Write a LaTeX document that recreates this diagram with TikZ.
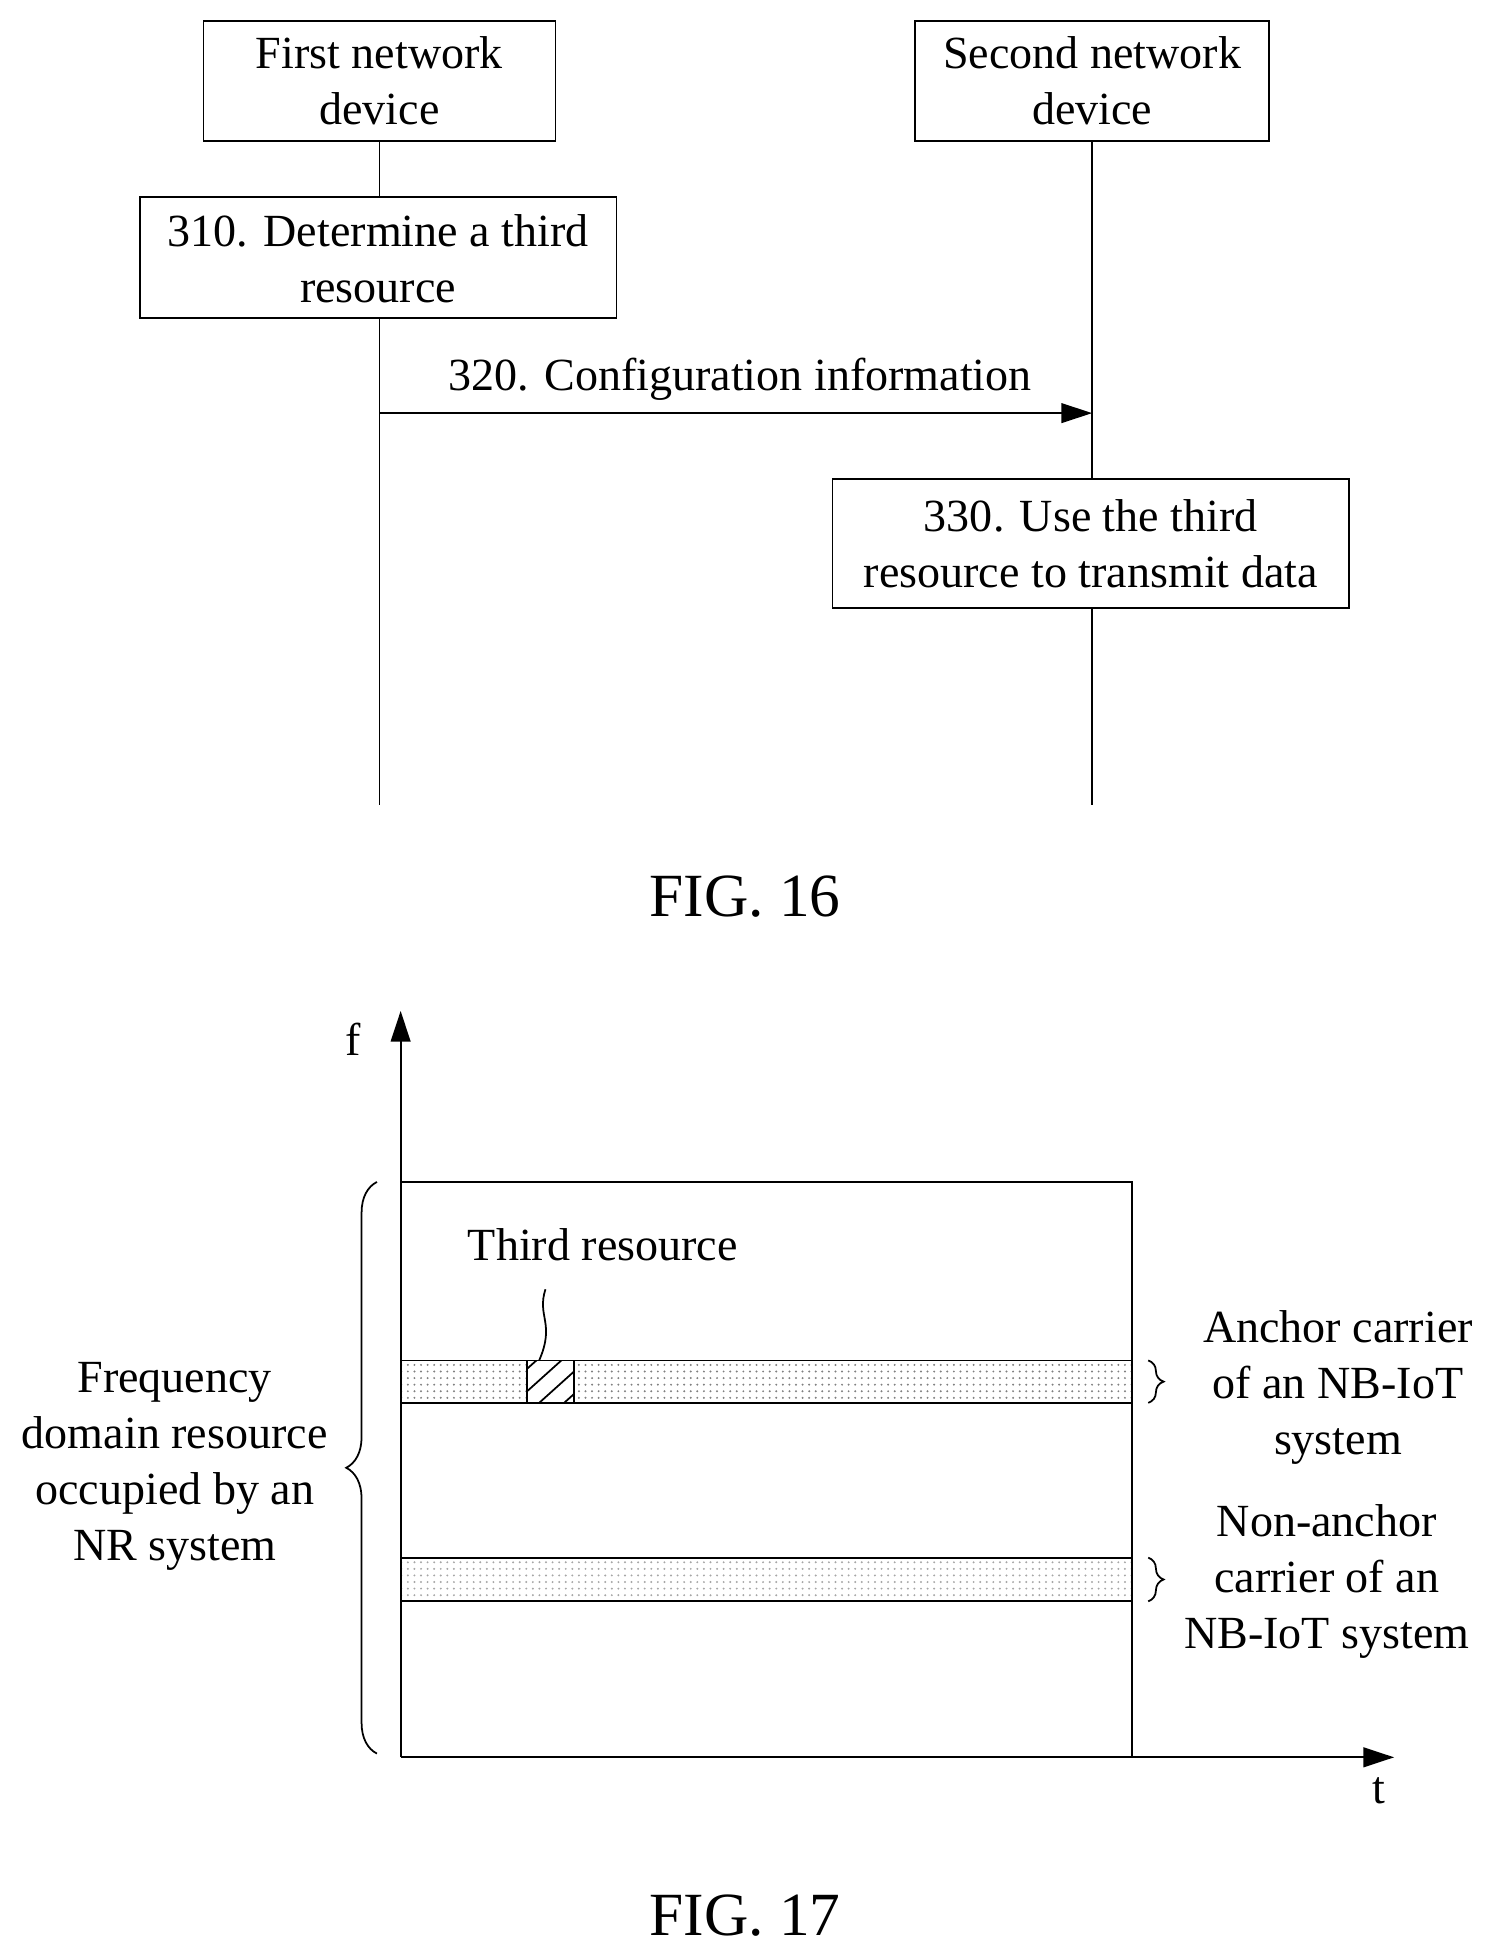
\documentclass[tikz,border=0pt]{standalone}
\usepackage{fontspec}
\setmainfont{Liberation Serif}
\usetikzlibrary{arrows.meta,patterns,decorations.pathreplacing}
\begin{document}
\begin{tikzpicture}[x=0.02cm,y=-0.02cm,
  txt/.style={font=\fontsize{21}{25.5}\selectfont,align=center,inner sep=0},
  box/.style={draw,thick},
  fig/.style={font=\fontsize{28}{32}\selectfont,inner sep=0},
  ln/.style={thick},
  arr/.style={thick,-{Triangle[length=14pt,width=9pt]}}]
\useasboundingbox (0,0) rectangle (1200,1568);
% FIG 16
\draw[box] (163,17) rectangle (445,113);
\node[txt] (a) at (304,65) {First network\\device};
\draw[box] (733,17) rectangle (1017,113);
\node[txt] (b) at (875,65) {Second network\\device};
\coordinate (a1) at (304,113); \coordinate (a2) at (304,645);
\coordinate (b1) at (875,113); \coordinate (b2) at (875,645);
\draw[ln] (a1) -- (a2); \draw[ln] (b1) -- (b2);
\draw[box,fill=white] (112,158) rectangle (494,255);
\node[txt] (s310) at (303,207) {310. Determine a third\\resource};
\coordinate (p1) at (304,331); \coordinate (p2) at (875,331);
\draw[arr] (p1) -- (p2);
\node[txt] (s320) at (593,304) {320. Configuration information};
\draw[box,fill=white] (667,384) rectangle (1081,487);
\node[txt] (s330) at (874,436) {330. Use the third\\resource to transmit data};
\node[fig] (f16) at (597,718) {FIG. 16};
% FIG 17
\coordinate (o) at (321,1408);
\coordinate (fy) at (321,810);
\coordinate (tx) at (1117,1408);
\draw[arr] (o) -- (fy);
\draw[arr] (o) -- (tx);
\node[txt] (fl) at (283,833) {f};
\node[txt] (tl) at (1105,1435) {t};
\draw[ln] (321,947) -- (907,947) -- (907,1408);
\draw[ln,pattern=dots,pattern color=gray] (321,1090) rectangle (907,1124);
\draw[ln,fill=white] (422,1090) rectangle (460,1124);
\begin{scope}
\clip (422,1090) rectangle (460,1124);
\foreach \d in {-30,-10,10,30} \draw[ln] (422+\d,1124) -- (462+\d,1088);
\end{scope}
\draw[ln] (422,1090) rectangle (460,1124);
\draw[ln,pattern=dots,pattern color=gray!70] (321,1248) rectangle (907,1283);
\draw[ln,decorate,decoration={brace,amplitude=14pt}] (302,1405) -- (302,947);
\node[txt] (nr) at (140,1175) {Frequency\\domain resource\\occupied by an\\NR system};
\draw[ln,decorate,decoration={brace,amplitude=7pt}] (920,1090) -- (920,1124);
\draw[ln,decorate,decoration={brace,amplitude=7pt}] (920,1248) -- (920,1283);
\node[txt] (anc) at (1072,1112) {Anchor carrier\\of an NB-IoT\\system};
\node[txt] (nanc) at (1063,1267) {Non-anchor\\carrier of an\\NB-IoT system};
\node[txt] (tr) at (483,997) {Third resource};
\coordinate (q1) at (437,1033); \coordinate (q2) at (432,1090);
\draw[ln] (q1) .. controls (430,1055) and (445,1060) .. (q2);
\node[fig] (f17) at (597,1535) {FIG. 17};
\end{tikzpicture}
\end{document}
